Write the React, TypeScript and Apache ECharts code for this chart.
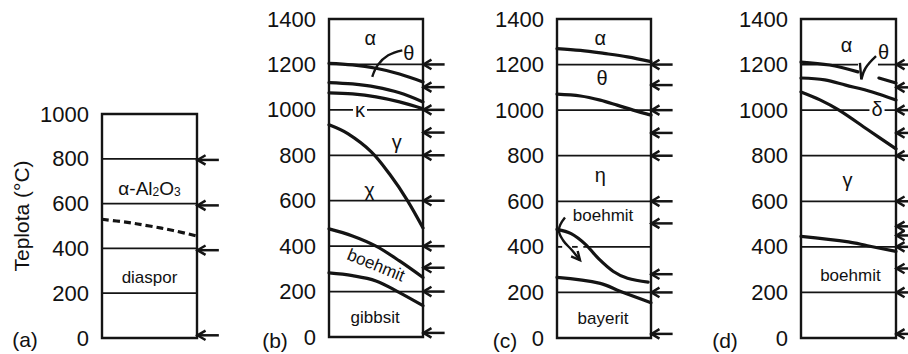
import React, { useEffect, useRef } from "react";
import * as echarts from "echarts";

type Pt = [number, number];
type Lbl = { text: string; x: number; t: number };

const FONT = '"Liberation Sans", Arial, Helvetica, sans-serif';
const INK = "#141414";
const TEXT = "#111111";

// ---------- Panel (a) : diaspor ----------
const axisMaxA = 1000;
const levelsA = [800, 600, 400, 200];
const arrowsA = [795, 592, 392, 12];
const dashedA: Pt[] = [[0, 530], [0.25, 517], [0.5, 500], [0.75, 480], [1, 455]];
const labelsA: Lbl[] = [
  { text: "α-Al2O3", x: 0.5, t: 679 },
  { text: "diaspor", x: 0.5, t: 272 },
];

// ---------- Panel (b) : gibbsit ----------
const axisMaxB = 1400;
const levelsB = [1200, 1000, 800, 600, 400, 200];
const arrowsB = [1200, 1100, 1000, 900, 800, 600, 400, 305, 200, 18];
const curvesB: Pt[][] = [
  [[0, 1205], [0.25, 1198], [0.5, 1183], [0.75, 1158], [1, 1123]],
  [[0, 1120], [0.25, 1114], [0.5, 1100], [0.75, 1075], [1, 1035]],
  [[0, 1075], [0.25, 1070], [0.5, 1057], [0.75, 1035], [1, 1005]],
  [[0, 934], [0.2, 895], [0.45, 815], [0.65, 714], [0.83, 604], [1, 480]],
  [[0, 476], [0.25, 445], [0.5, 400], [0.75, 335], [1, 262]],
  [[0, 282], [0.25, 270], [0.5, 247], [0.73, 200], [1, 138]],
];
const pointersB: Pt[][] = [[[0.78, 1262], [0.63, 1240], [0.52, 1198], [0.46, 1145]]];
const labelsB: Lbl[] = [
  { text: "α", x: 0.44, t: 1316 },
  { text: "θ", x: 0.85, t: 1252 },
  { text: "κ", x: 0.33, t: 1000 },
  { text: "γ", x: 0.72, t: 859 },
  { text: "χ", x: 0.43, t: 648 },
  { text: "boehmit", x: 0.5, t: 316 },
  { text: "gibbsit", x: 0.49, t: 86 },
];

// ---------- Panel (c) : bayerit ----------
const axisMaxC = 1400;
const levelsC = [1200, 1000, 800, 600, 400, 200];
const gapsC: Record<number, Pt[]> = { 400: [[0, 0.055], [0.16, 0.22], [0.28, 1]] };
const arrowsC = [1200, 1110, 1000, 900, 800, 600, 503, 280, 200, 18];
const curvesC: Pt[][] = [
  [[0, 1270], [0.25, 1262], [0.5, 1249], [0.75, 1234], [1, 1213]],
  [[0, 1070], [0.25, 1062], [0.46, 1044], [0.64, 1022], [0.81, 1000], [1, 978]],
  [[0, 477], [0.15, 458], [0.3, 412], [0.45, 345], [0.6, 292], [0.75, 262], [0.97, 245]],
  [[0, 266], [0.46, 240], [0.67, 205], [1, 155]],
];
const pointersC: Pt[][] = [
  [[0.085, 529], [0.02, 473], [0.064, 429], [0.16, 385], [0.245, 341]],
];
const barbsC: Pt[][] = [[[0.15, 358], [0.245, 341], [0.22, 382]]];
const labelsC: Lbl[] = [
  { text: "α", x: 0.46, t: 1316 },
  { text: "θ", x: 0.48, t: 1141 },
  { text: "η", x: 0.46, t: 714 },
  { text: "boehmit", x: 0.49, t: 538 },
  { text: "bayerit", x: 0.49, t: 86 },
];

// ---------- Panel (d) : boehmit ----------
const axisMaxD = 1400;
const levelsD = [1200, 1000, 800, 600, 400, 200];
const gapsD: Record<number, Pt[]> = { 1200: [[0, 0.6], [0.81, 1]] };
const arrowsD = [1200, 1100, 1000, 900, 800, 600, 490, 450, 400, 305, 200, 18];
const curvesD: Pt[][] = [
  [[0, 1211], [0.3, 1198], [0.6, 1168]],
  [[0.82, 1141], [1, 1119]],
  [[0, 1141], [0.25, 1133], [0.47, 1110], [0.75, 1080], [1, 1044]],
  [[0, 1080], [0.2, 1045], [0.4, 1000], [0.7, 915], [1, 830]],
  [[0, 446], [0.5, 422], [0.7, 405], [1, 380]],
];
const pointersD: Pt[][] = [
  [[0.62, 1207], [0.635, 1135]],
  [[0.635, 1135], [0.68, 1185], [0.79, 1237]],
];
const labelsD: Lbl[] = [
  { text: "α", x: 0.48, t: 1286 },
  { text: "θ", x: 0.87, t: 1256 },
  { text: "δ", x: 0.8, t: 1004 },
  { text: "γ", x: 0.49, t: 692 },
  { text: "boehmit", x: 0.52, t: 275 },
];

const panelTags = ["(a)", "(b)", "(c)", "(d)"];
const axisTitle = "Teplota (°C)";

// ---------- layout / style ----------
const gridBoxes = [
  { left: 102, top: 114, width: 95, height: 224 },
  { left: 329, top: 19, width: 94, height: 318 },
  { left: 557, top: 19, width: 94, height: 319 },
  { left: 801, top: 19, width: 95, height: 319 },
];
const tagPos = [
  [25, 339],
  [275, 340],
  [505, 340],
  [725, 340],
];

type Panel = {
  max: number;
  levels: number[];
  gaps: Record<number, Pt[]>;
  arrows: number[];
  curves: Pt[][];
  dashed: Pt[][];
  pointers: Pt[][];
  barbs: Pt[][];
  labels: Lbl[];
};

const panels: Panel[] = [
  { max: axisMaxA, levels: levelsA, gaps: {}, arrows: arrowsA, curves: [], dashed: [dashedA], pointers: [], barbs: [], labels: labelsA },
  { max: axisMaxB, levels: levelsB, gaps: {}, arrows: arrowsB, curves: curvesB, dashed: [], pointers: pointersB, barbs: [], labels: labelsB },
  { max: axisMaxC, levels: levelsC, gaps: gapsC, arrows: arrowsC, curves: curvesC, dashed: [], pointers: pointersC, barbs: barbsC, labels: labelsC },
  { max: axisMaxD, levels: levelsD, gaps: gapsD, arrows: arrowsD, curves: curvesD, dashed: [], pointers: pointersD, barbs: [], labels: labelsD },
];

function labelStyle(text: string): any {
  const base: any = {
    show: true,
    position: "inside",
    color: TEXT,
    opacity: 1,
    fontFamily: FONT,
    formatter: text,
  };
  if (text === "α-Al2O3") {
    return {
      ...base,
      formatter: "{m|α-Al}{s|2}{m|O}{s|3}",
      rich: {
        m: { fontSize: 19, lineHeight: 24, verticalAlign: "bottom", color: TEXT, fontFamily: FONT },
        s: { fontSize: 12, lineHeight: 14, verticalAlign: "bottom", color: TEXT, fontFamily: FONT },
      },
    };
  }
  if (text.length === 1) {
    const s: any = { ...base, fontSize: 20 };
    if (text === "κ" || text === "δ") {
      s.backgroundColor = "#ffffff";
      s.padding = [0, 2, 0, 2];
    }
    return s;
  }
  return { ...base, fontSize: 17 };
}

function buildOption(): any {
  const grid = gridBoxes.map((g) => ({
    ...g,
    show: true,
    borderColor: INK,
    borderWidth: 2.4,
    backgroundColor: "transparent",
    containLabel: false,
    outerBoundsMode: "none",
  }));
  const xAxis = panels.map((_, i) => ({ type: "value", gridIndex: i, min: 0, max: 1, show: false }));
  const yAxis = panels.map((p, i) => ({
    type: "value",
    gridIndex: i,
    min: 0,
    max: p.max,
    interval: 200,
    axisLine: { show: false },
    axisTick: { show: false },
    splitLine: { show: false },
    axisLabel: {
      fontSize: 22,
      color: TEXT,
      fontFamily: FONT,
      margin: 13,
      formatter: (v: number) => String(v),
    },
  }));

  const series: any[] = [];
  panels.forEach((p, i) => {
    const ax = { xAxisIndex: i, yAxisIndex: i };
    const bData: any[] = [];
    p.levels.forEach((t) => {
      const segs = p.gaps[t] || [[0, 1]];
      segs.forEach(([a, b]) => bData.push({ coords: [[a, t], [b, t]] }));
    });
    series.push({
      type: "lines",
      coordinateSystem: "cartesian2d",
      ...ax,
      polyline: true,
      silent: true,
      z: 2,
      lineStyle: { color: INK, width: 1.8, opacity: 1 },
      data: bData,
    });
    const aData: any[] = [];
    p.arrows.forEach((t) => {
      aData.push({ coords: [[1, t], [1.23, t]] });
      aData.push({ coords: [[1.09, t + 21], [1.005, t], [1.09, t - 21]] });
    });
    series.push({
      type: "lines",
      coordinateSystem: "cartesian2d",
      ...ax,
      polyline: true,
      silent: true,
      clip: false,
      z: 3,
      lineStyle: { color: INK, width: 2.5, opacity: 1, join: "miter", cap: "butt" },
      data: aData,
    });
    p.curves.forEach((c) =>
      series.push({
        type: "line",
        ...ax,
        data: c,
        smooth: 0.35,
        showSymbol: false,
        silent: true,
        z: 4,
        lineStyle: { color: INK, width: 3.2, cap: "round", opacity: 1 },
      })
    );
    p.dashed.forEach((c) =>
      series.push({
        type: "line",
        ...ax,
        data: c,
        smooth: 0.35,
        showSymbol: false,
        silent: true,
        z: 4,
        lineStyle: { color: INK, width: 3.2, type: [7, 4], opacity: 1 },
      })
    );
    p.pointers.forEach((c) =>
      series.push({
        type: "line",
        ...ax,
        data: c,
        smooth: 0.4,
        showSymbol: false,
        silent: true,
        z: 5,
        lineStyle: { color: INK, width: 2.4, opacity: 1 },
      })
    );
    p.barbs.forEach((c) =>
      series.push({
        type: "line",
        ...ax,
        data: c,
        showSymbol: false,
        silent: true,
        z: 5,
        lineStyle: { color: INK, width: 2.4, join: "miter", opacity: 1 },
      })
    );
    series.push({
      type: "scatter",
      ...ax,
      symbol: "circle",
      symbolSize: 1,
      silent: true,
      z: 10,
      itemStyle: { color: "rgba(0,0,0,0)", opacity: 1 },
      emphasis: { disabled: true },
      data: p.labels.map((l) => {
        const lab = labelStyle(l.text);
        if (l.text === "boehmit" && i === 1) lab.rotate = -22;
        return { value: [l.x, l.t], label: lab };
      }),
    });
  });

  const graphic: any[] = [
    {
      type: "text",
      x: 21,
      y: 216,
      rotation: Math.PI / 2,
      style: {
        text: axisTitle,
        fontSize: 21,
        fontFamily: FONT,
        fill: TEXT,
        align: "center",
        verticalAlign: "middle",
      },
    },
    ...panelTags.map((t, i) => ({
      type: "text",
      x: tagPos[i][0],
      y: tagPos[i][1],
      style: {
        text: t,
        fontSize: 21,
        fontFamily: FONT,
        fill: TEXT,
        align: "center",
        verticalAlign: "middle",
      },
    })),
  ];

  return {
    animation: false,
    backgroundColor: "#ffffff",
    grid,
    xAxis,
    yAxis,
    series,
    graphic,
  };
}

export default function App() {
  const ref = useRef<HTMLDivElement>(null);
  useEffect(() => {
    if (!ref.current) return;
    const chart = echarts.init(ref.current, undefined, { renderer: "svg" });
    chart.setOption(buildOption());
    return () => chart.dispose();
  }, []);
  return (
    <div
      ref={ref}
      style={{ position: "fixed", left: 0, top: 0, width: 908, height: 354, background: "#fff" }}
    />
  );
}
